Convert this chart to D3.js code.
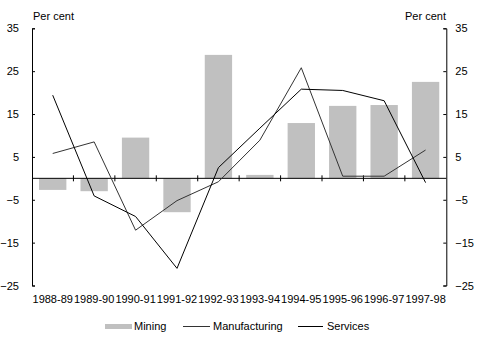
<!DOCTYPE html>
<html><head><meta charset="utf-8">
<script src="https://cdn.jsdelivr.net/npm/d3@7"></script>
<style>body{margin:0;background:#fff}svg{display:block}text{font-family:Arial,"Liberation Sans",sans-serif;font-size:11px;fill:#000}</style>
</head><body>
<script>
const categories = ["1988-89","1989-90","1990-91","1991-92","1992-93","1993-94","1994-95","1995-96","1996-97","1997-98"];
const mining = [-2.7,-3.0,9.5,-7.9,28.8,0.8,12.9,16.9,17.1,22.5];
const manufacturing = [5.8,8.5,-12.1,-5.2,-0.8,8.9,25.8,0.5,0.5,6.6];
const services = [19.4,-4.1,-8.9,-21.0,2.5,11.7,20.8,20.5,18.1,-1.0];
const yTicks = [35,25,15,5,-5,-15,-25];

const W=477,H=340;
const svg=d3.select("body").append("svg").attr("width",W).attr("height",H);
const x=d3.scaleBand().domain(categories).range([32,446.3]).paddingInner(0.34).paddingOuter(0.17);
const xb=d3.scaleBand().domain(categories).range([32,446.3]);
const y=d3.scaleLinear().domain([-25,35]).range([285.5,28.3]);

// bars
svg.selectAll("rect.bar").data(mining).join("rect")
  .attr("fill","#c0c0c0")
  .attr("x",(d,i)=>x(categories[i]))
  .attr("width",x.bandwidth())
  .attr("y",d=>y(Math.max(0,d)))
  .attr("height",d=>Math.abs(y(d)-y(0)));

// axes
const la=svg.append("g").attr("transform","translate(32,0)")
  .call(d3.axisLeft(y).tickValues(yTicks).tickSize(-3).tickPadding(13).tickFormat(d3.format("d")));
const ra=svg.append("g").attr("transform","translate(446.3,0)")
  .call(d3.axisRight(y).tickValues(yTicks).tickSize(-3).tickPadding(9).tickFormat(d3.format("d")));
[la,ra].forEach(g=>{g.select(".domain").attr("stroke","#000");g.selectAll("line").attr("stroke","#000");g.selectAll("text").style("font-size","11px");});

// zero axis
const xa=svg.append("g").attr("transform",`translate(0,${y(0)})`)
  .call(d3.axisBottom(xb).tickSize(0).tickFormat(""));
xa.select(".domain").attr("stroke","#000").attr("d",`M32,0H446.3`);
const bounds=categories.slice(1).map(c=>xb(c));
svg.selectAll("line.xt").data(bounds).join("line")
  .attr("x1",d=>d).attr("x2",d=>d).attr("y1",y(0)-3).attr("y2",y(0)+3).attr("stroke","#000");

// x labels
svg.selectAll("text.xl").data(categories).join("text")
  .attr("x",d=>xb(d)+xb.bandwidth()/2).attr("y",303)
  .attr("text-anchor","middle").text(d=>d);

// lines
const line=d3.line().x((d,i)=>xb(categories[i])+xb.bandwidth()/2).y(d=>y(d));
svg.append("path").datum(manufacturing).attr("d",line).attr("fill","none").attr("stroke","#333").attr("stroke-width",1);
svg.append("path").datum(services).attr("d",line).attr("fill","none").attr("stroke","#000").attr("stroke-width",1);

// per cent labels
svg.append("text").attr("x",33).attr("y",20).text("Per cent");
svg.append("text").attr("x",446).attr("y",20).attr("text-anchor","end").text("Per cent");

// legend
const lg=svg.append("g");
lg.append("rect").attr("x",105).attr("y",324).attr("width",27).attr("height",5).attr("fill","#c0c0c0");
lg.append("text").attr("x",134).attr("y",330).text("Mining");
lg.append("line").attr("x1",183).attr("x2",210).attr("y1",326.5).attr("y2",326.5).attr("stroke","#333");
lg.append("text").attr("x",213).attr("y",330).text("Manufacturing");
lg.append("line").attr("x1",298).attr("x2",323).attr("y1",326.5).attr("y2",326.5).attr("stroke","#000");
lg.append("text").attr("x",327).attr("y",330).text("Services");
</script>
</body></html>
